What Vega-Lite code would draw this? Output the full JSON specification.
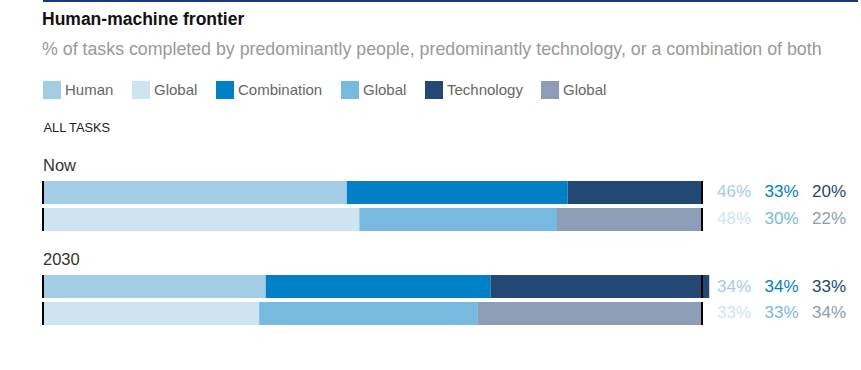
{
  "$schema": "https://vega.github.io/schema/vega-lite/v6.json",
  "padding": {"left": 42, "top": 0, "right": 0, "bottom": 0},
  "config": {
    "font": "Liberation Sans",
    "view": {"stroke": null},
    "concat": {"spacing": 8}
  },
  "datasets": {
    "bars": [
      {"period": "Now", "row": "main", "cat": "Human", "rank": 1, "key": "Human", "value": 0.461, "label": "46%"},
      {"period": "Now", "row": "main", "cat": "Combination", "rank": 2, "key": "Combination", "value": 0.335, "label": "33%"},
      {"period": "Now", "row": "main", "cat": "Technology", "rank": 3, "key": "Technology", "value": 0.203, "label": "20%"},
      {"period": "Now", "row": "global", "cat": "Human", "rank": 1, "key": "Human Global", "value": 0.48, "label": "48%"},
      {"period": "Now", "row": "global", "cat": "Combination", "rank": 2, "key": "Combination Global", "value": 0.30, "label": "30%"},
      {"period": "Now", "row": "global", "cat": "Technology", "rank": 3, "key": "Technology Global", "value": 0.22, "label": "22%"},
      {"period": "2030", "row": "main", "cat": "Human", "rank": 1, "key": "Human", "value": 0.338, "label": "34%"},
      {"period": "2030", "row": "main", "cat": "Combination", "rank": 2, "key": "Combination", "value": 0.341, "label": "34%"},
      {"period": "2030", "row": "main", "cat": "Technology", "rank": 3, "key": "Technology", "value": 0.332, "label": "33%"},
      {"period": "2030", "row": "global", "cat": "Human", "rank": 1, "key": "Human Global", "value": 0.328, "label": "33%"},
      {"period": "2030", "row": "global", "cat": "Combination", "rank": 2, "key": "Combination Global", "value": 0.332, "label": "33%"},
      {"period": "2030", "row": "global", "cat": "Technology", "rank": 3, "key": "Technology Global", "value": 0.34, "label": "34%"}
    ],
    "periods": [{"period": "Now"}, {"period": "2030"}],
    "rows": [
      {"period": "Now", "row": "main"},
      {"period": "Now", "row": "global"},
      {"period": "2030", "row": "main"},
      {"period": "2030", "row": "global"}
    ]
  },
  "vconcat": [
    {
      "width": 815,
      "height": 1,
      "data": {"values": [{}]},
      "mark": {"type": "rule", "color": "#1b3a7e", "strokeWidth": 2},
      "encoding": {
        "x": {"datum": 0, "type": "quantitative", "scale": {"domain": [0, 1]}, "axis": null},
        "x2": {"datum": 1},
        "y": {"datum": 1, "type": "quantitative", "scale": {"domain": [0, 1]}, "axis": null}
      }
    },
    {
      "width": 659,
      "height": 171,
      "title": {
        "text": "Human-machine frontier",
        "subtitle": "% of tasks completed by predominantly people, predominantly technology, or a combination of both",
        "anchor": "start",
        "frame": "group",
        "dx": -1,
        "fontSize": 17.5,
        "fontWeight": "bold",
        "color": "#111111",
        "subtitleFontSize": 17.8,
        "subtitleColor": "#999999",
        "subtitlePadding": 13,
        "offset": 22
      },
      "layer": [
        {
          "data": {"name": "bars"},
          "mark": {"type": "bar"},
          "encoding": {
            "y": {"field": "period", "type": "nominal", "sort": ["Now", "2030"], "scale": {"domain": ["Now", "2030"], "paddingInner": 0.181, "paddingOuter": 0}, "axis": null},
            "yOffset": {"field": "row", "type": "nominal", "sort": ["header", "main", "global"], "scale": {"domain": ["header", "main", "global"], "paddingInner": 0.148, "paddingOuter": 0}},
            "x": {
              "field": "value", "type": "quantitative", "stack": "zero",
              "scale": {"domain": [0, 1], "nice": false},
              "axis": {"orient": "top", "title": "ALL TASKS", "labels": false, "ticks": false, "domain": false, "grid": false,
                       "titleAnchor": "start", "titleFontSize": 12.8, "titleFontWeight": "normal", "titleColor": "#222222",
                       "titleBaseline": "alphabetic", "titlePadding": 23}
            },
            "order": {"field": "rank", "type": "quantitative"},
            "color": {
              "field": "key", "type": "nominal",
              "sort": ["Human", "Human Global", "Combination", "Combination Global", "Technology", "Technology Global"],
              "scale": {
                "domain": ["Human", "Human Global", "Combination", "Combination Global", "Technology", "Technology Global"],
                "range": ["#a2cde5", "#cde4f1", "#0080c6", "#78b9df", "#234874", "#8c9db5"]
              },
              "legend": {
                "orient": "top", "direction": "horizontal", "title": null,
                "symbolType": "square", "symbolSize": 324, "symbolStrokeWidth": 0, "symbolOpacity": 1,
                "labelFontSize": 15, "labelColor": "#666666", "columnPadding": 18, "labelOffset": 4,
                "offset": 22, "padding": 0,
                "labelExpr": "indexof(datum.label, 'Global') >= 0 ? 'Global' : datum.label"
              }
            }
          }
        },
        {
          "data": {"name": "rows"},
          "mark": {"type": "rect", "stroke": "#000000", "strokeWidth": 2, "fill": "#000000"},
          "encoding": {
            "x": {"datum": 0, "type": "quantitative", "scale": {"domain": [0, 1], "nice": false}, "axis": null},
            "x2": {"datum": 0},
            "y": {"field": "period", "type": "nominal"},
            "yOffset": {"field": "row", "type": "nominal"}
          }
        },
        {
          "data": {"name": "rows"},
          "mark": {"type": "rect", "stroke": "#000000", "strokeWidth": 2, "fill": "#000000"},
          "encoding": {
            "x": {"datum": 1, "type": "quantitative", "scale": {"domain": [0, 1], "nice": false}, "axis": null},
            "x2": {"datum": 1},
            "y": {"field": "period", "type": "nominal"},
            "yOffset": {"field": "row", "type": "nominal"}
          }
        },
        {
          "data": {"name": "periods"},
          "mark": {"type": "text", "align": "left", "baseline": "middle", "fontSize": 16.5, "color": "#333333"},
          "encoding": {
            "x": {"datum": 0, "type": "quantitative", "scale": {"domain": [0, 1], "nice": false}, "axis": null},
            "y": {"field": "period", "type": "nominal"},
            "yOffset": {"datum": "header", "type": "nominal"},
            "text": {"field": "period"}
          }
        },
        {
          "data": {"name": "bars"},
          "mark": {"type": "text", "align": "left", "baseline": "middle", "fontSize": 17},
          "encoding": {
            "x": {"field": "cat", "type": "nominal", "scale": {"type": "point", "domain": ["Human", "Combination", "Technology"], "range": [674, 769], "padding": 0}, "axis": null},
            "y": {"field": "period", "type": "nominal"},
            "yOffset": {"field": "row", "type": "nominal"},
            "text": {"field": "label"},
            "color": {"field": "key", "type": "nominal", "legend": null}
          }
        }
      ],
      "resolve": {"scale": {"x": "independent"}}
    }
  ],
  "resolve": {"scale": {"color": "independent"}, "legend": {"color": "independent"}}
}
